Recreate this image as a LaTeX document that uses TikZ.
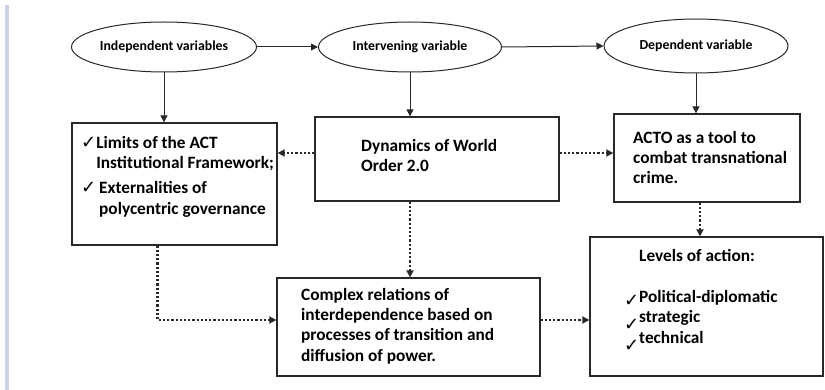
\documentclass[tikz,border=0pt]{standalone}
\usepackage{fontspec}
\setmainfont{Carlito}
\newfontfamily\symfont{DejaVu Sans}
\usetikzlibrary{shapes.geometric,arrows.meta,calc}
\newcommand{\chk}{{\symfont\fontsize{18pt}{18pt}\selectfont ✓}}
\definecolor{linec}{RGB}{40,40,40}
\definecolor{barc}{RGB}{205,212,228}
\tikzset{
  ell/.style={ellipse,draw=linec,line width=1pt,inner sep=0pt,minimum height=50pt,font=\fontsize{13.8pt}{15pt}\selectfont\bfseries},
  boxn/.style={rectangle,draw=linec,line width=1.3pt,inner sep=0pt},
  txt/.style={anchor=north west,inner sep=0pt,align=left,font=\fontsize{17.3pt}{20.3pt}\selectfont\bfseries},
  solidarr/.style={draw=linec,line width=1pt,-{Triangle[length=7pt,width=7pt]}},
  dotarr/.style={draw=linec,line width=2.4pt,dash pattern=on 2.2pt off 2pt,-{Triangle[length=7pt,width=7pt]}}
}
\begin{document}
\begin{tikzpicture}[x=1pt,y=-1pt]
\useasboundingbox (0,0) rectangle (825,390);
\fill[barc] (5,5) rectangle (9,390);
% ellipses
\node[ell,minimum width=185pt] (e1) at (164,47) {Independent variables};
\node[ell,minimum width=183pt] (e2) at (410,47) {Intervening variable};
\node[ell,minimum width=184pt,minimum height=54pt] (e3) at (696,46) {Dependent variable};
% boxes
\node[boxn,minimum width=205pt,minimum height=122pt] (b1) at (174.5,184) {};
\node[boxn,minimum width=244pt,minimum height=84pt] (b2) at (437,159) {};
\node[boxn,minimum width=186pt,minimum height=88pt] (b3) at (707,158) {};
\node[boxn,minimum width=233pt,minimum height=139pt] (b4) at (706.5,306.5) {};
\node[boxn,minimum width=263pt,minimum height=98pt] (b5) at (408.5,327) {};
% texts
\node[txt] (t1) at (81,136) {\chk Limits of the ACT\\\hphantom{\chk}Institutional Framework;\\[5pt]
\chk\,Externalities of\\\hphantom{\chk\,}polycentric governance};
\node[txt] (t2) at (361,139) {Dynamics of World\\Order 2.0};
\node[txt] (t3) at (633,131) {ACTO as a tool to\\combat transnational\\crime.};
\node[txt] (t4) at (639,249) {Levels of action:\\[21pt]
\llap{\raisebox{-4pt}{\chk}}Political-diplomatic\\
\llap{\raisebox{-8pt}{\chk}}strategic\\
\llap{\raisebox{-8pt}{\chk}}technical};
\node[txt] (t5) at (301,288) {Complex relations of\\interdependence based on\\processes of transition and\\diffusion of power.};
% solid arrows
\draw[solidarr] (e1.east) -- (e2.west);
\draw[solidarr] (e2.east) -- (e3.west);
\draw[solidarr] (e1.south) -- (e1.south |- b1.north);
\draw[solidarr] (e2.south) -- (e2.south |- b2.north);
\draw[solidarr] (e3.south) -- (e3.south |- b3.north);
% dotted arrows
\draw[dotarr] ([yshift=6pt]b2.west) -- ([yshift=6pt]b2.west -| b1.east);
\draw[dotarr] ([yshift=6pt]b2.east) -- ([yshift=6pt]b2.east -| b3.west);
\draw[dotarr] (b2.south -| e2.south) -- (b5.north -| e2.south);
\draw[dotarr] ([xshift=-7pt]b3.south) -- ([xshift=-7pt]b3.south |- b4.north);
\draw[dotarr] ([xshift=-17pt]b1.south) |- ([yshift=7pt]b5.west);
\draw[dotarr] ([yshift=7pt]b5.east) -- ([yshift=7pt]b5.east -| b4.west);
\end{tikzpicture}
\end{document}
